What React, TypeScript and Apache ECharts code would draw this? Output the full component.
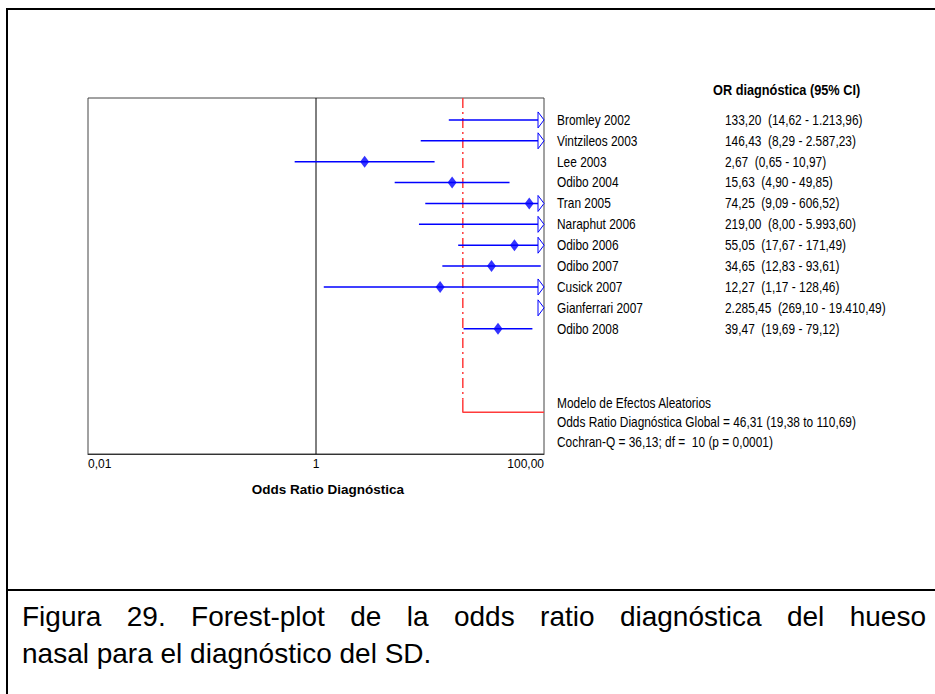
import React, { useEffect, useRef } from 'react';
import * as echarts from 'echarts';

// Studies of the meta-analysis (top to bottom)
const studies = [
  'Bromley 2002', 'Vintzileos 2003', 'Lee 2003', 'Odibo 2004', 'Tran 2005', 'Naraphut 2006',
  'Odibo 2006', 'Odibo 2007', 'Cusick 2007', 'Gianferrari 2007', 'Odibo 2008',
];
const oddsRatio = [133.2, 146.43, 2.67, 15.63, 74.25, 219.0, 55.05, 34.65, 12.27, 2285.45, 39.47];
const ciLower = [14.62, 8.29, 0.65, 4.9, 9.09, 8.0, 17.67, 12.83, 1.17, 269.1, 19.69];
const ciUpper = [1213.96, 2587.23, 10.97, 49.85, 606.52, 5993.6, 171.49, 93.61, 128.46, 19410.49, 79.12];

// Axis
const xMin = 0.01;
const xMax = 100;
const tickLabels: Record<string, string> = { '-2': '0,01', '0': '1', '2': '100,00' };
const nullLine = 1;
const summaryLineOR = 19.4;
const summaryRow = 14;

const tableTitle = 'OR diagnóstica (95% CI)';
const axisTitle = 'Odds Ratio Diagnóstica';
const summaryLines = [
  'Modelo de Efectos Aleatorios',
  'Odds Ratio Diagnóstica Global = 46,31 (19,38 to 110,69)',
  'Cochran-Q = 36,13; df =  10 (p = 0,0001)',
];
const captionLine1 = 'Figura 29. Forest-plot de la odds ratio diagnóstica del hueso';
const captionLine2 = 'nasal para el diagnóstico del SD.';

const W = 935;
const H = 694;
const yMin = -1.05;
const yMax = 16;
const BLUE = '#0000ff';
const RED = '#ff3b3b';
const SANS = '"Liberation Sans", Arial, sans-serif';
const NARROW_SCALE = 0.85;
const CAPTION_SIZE = 28;

const fmt = (v: number) => {
  const [i, d] = v.toFixed(2).split('.');
  return i.replace(/\B(?=(\d{3})+(?!\d))/g, '.') + ',' + d;
};

// Narrow-looking label: regular sans squeezed horizontally around its left anchor
const narrowText = (text: string, x: number, y: number, bold = false, size = 14) => ({
  type: 'text',
  x,
  y,
  scaleX: NARROW_SCALE,
  style: {
    text,
    fontSize: size,
    fontFamily: SANS,
    fontWeight: bold ? 'bold' : 'normal',
    fill: '#000',
    textVerticalAlign: 'middle',
    verticalAlign: 'middle',
  },
});

function justifiedWords(text: string, left: number, right: number, y: number) {
  const ctx = document.createElement('canvas').getContext('2d')!;
  ctx.font = `${CAPTION_SIZE}px ${SANS}`;
  const words = text.split(' ');
  const widths = words.map((w) => ctx.measureText(w).width);
  const total = widths.reduce((a, b) => a + b, 0);
  const gap = (right - left - total) / (words.length - 1);
  let x = left;
  return words.map((w, k) => {
    const el = {
      type: 'text',
      x,
      y,
      style: {
        text: w,
        fontSize: CAPTION_SIZE,
        fontFamily: SANS,
        fill: '#000',
        textVerticalAlign: 'middle',
        verticalAlign: 'middle',
      },
    };
    x += widths[k] + gap;
    return el;
  });
}

export default function App() {
  const ref = useRef<HTMLDivElement>(null);

  useEffect(() => {
    if (!ref.current) return;
    const chart = echarts.init(ref.current, undefined, { renderer: 'svg' });

    const rows = studies.map((_, i) => [ciLower[i], ciUpper[i], oddsRatio[i], i]);
    const points = oddsRatio
      .map((v, i) => [v, i])
      .filter((p) => p[0] >= xMin && p[0] <= xMax);

    chart.setOption({
      animation: false,
      backgroundColor: '#fff',
      grid: {
        left: 88,
        top: 98,
        width: 456,
        height: 356,
        show: true,
        borderColor: '#444',
        borderWidth: 1,
      },
      xAxis: {
        type: 'log',
        logBase: 10,
        min: xMin,
        max: xMax,
        axisLine: { show: true, onZero: false, lineStyle: { color: '#333', width: 1 } },
        axisTick: { show: false },
        splitLine: { show: false },
        axisLabel: {
          margin: 4,
          color: '#000',
          fontSize: 12,
          fontFamily: SANS,
          alignMinLabel: 'left',
          alignMaxLabel: 'right',
          formatter: (v: number) => tickLabels[String(Math.round(Math.log10(v)))] ?? '',
        },
        name: axisTitle,
        nameLocation: 'middle',
        nameGap: 28,
        nameTextStyle: {
          color: '#000',
          fontSize: 13.5,
          fontWeight: 'bold',
          fontFamily: SANS,
          padding: [0, 0, 0, 24],
        },
      },
      yAxis: { type: 'value', inverse: true, min: yMin, max: yMax, show: false },
      series: [
        {
          type: 'line',
          data: [[nullLine, yMin], [nullLine, yMax]],
          symbol: 'none',
          lineStyle: { color: '#000', width: 1 },
          z: 1,
        },
        {
          type: 'line',
          data: [[summaryLineOR, yMin], [summaryLineOR, summaryRow - 0.6]],
          symbol: 'none',
          lineStyle: { color: RED, width: 1.5, type: [10, 4, 2, 4] },
          z: 1,
        },
        {
          type: 'line',
          data: [[summaryLineOR, summaryRow - 0.6], [summaryLineOR, summaryRow], [xMax, summaryRow]],
          symbol: 'none',
          lineStyle: { color: RED, width: 1.5 },
          z: 1,
        },
        {
          type: 'custom',
          data: rows,
          encode: { x: [0, 1], y: 3 },
          z: 3,
          renderItem: (_params: any, api: any) => {
            const lo = api.value(0);
            const hi = api.value(1);
            const or = api.value(2);
            const i = api.value(3);
            const children: any[] = [];
            const arrowW = 6;
            const arrowH = 8;
            const clipped = hi > xMax;
            const pEnd = api.coord([Math.min(hi, xMax), i]);
            if (lo < xMax) {
              const pStart = api.coord([Math.max(lo, xMin), i]);
              children.push({
                type: 'line',
                shape: { x1: pStart[0], y1: pStart[1], x2: clipped ? pEnd[0] - arrowW : pEnd[0], y2: pEnd[1] },
                style: { stroke: BLUE, lineWidth: 1.5 },
              });
            }
            if (clipped) {
              children.push({
                type: 'polygon',
                shape: {
                  points: [
                    [pEnd[0] - arrowW, pEnd[1] - arrowH],
                    [pEnd[0], pEnd[1]],
                    [pEnd[0] - arrowW, pEnd[1] + arrowH],
                  ],
                },
                style: { stroke: BLUE, fill: '#fff', lineWidth: 1 },
              });
            }
            const edge = api.coord([xMax, i]);
            children.push(narrowText(studies[i], edge[0] + 13, edge[1]));
            children.push(
              narrowText(`${fmt(or)}\u00a0\u00a0(${fmt(lo)} - ${fmt(hi)})`, edge[0] + 181, edge[1]),
            );
            return { type: 'group', children };
          },
        },
        {
          type: 'scatter',
          data: points,
          symbol: 'diamond',
          symbolSize: [9, 12],
          itemStyle: { color: BLUE },
          z: 4,
        },
      ],
      graphic: [
        { type: 'line', shape: { x1: 7, y1: 8, x2: 7, y2: H }, style: { stroke: '#000', lineWidth: 2 } },
        { type: 'line', shape: { x1: 6, y1: 9, x2: W, y2: 9 }, style: { stroke: '#000', lineWidth: 2 } },
        { type: 'line', shape: { x1: 6, y1: 590, x2: W, y2: 590 }, style: { stroke: '#000', lineWidth: 2 } },
        narrowText(tableTitle, 713, 90, true, 15),
        ...summaryLines.map((t, k) => narrowText(t, 557, 403 + k * 19.5)),
        ...justifiedWords(captionLine1, 22, 926, 616),
        {
          type: 'text',
          x: 22,
          y: 653,
          style: {
            text: captionLine2,
            fontSize: CAPTION_SIZE,
            fontFamily: SANS,
            fill: '#000',
            textVerticalAlign: 'middle',
            verticalAlign: 'middle',
          },
        },
      ],
    });

    return () => chart.dispose();
  }, []);

  return <div ref={ref} style={{ position: 'absolute', left: 0, top: 0, width: W, height: H }} />;
}
